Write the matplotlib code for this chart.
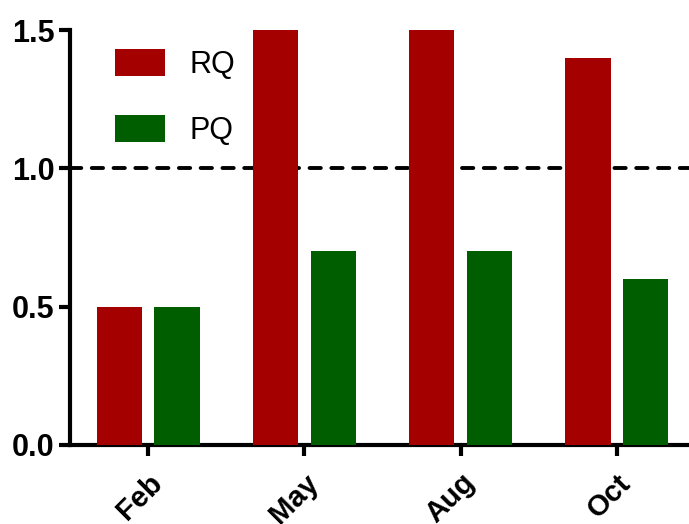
import numpy as np
import matplotlib
matplotlib.use("Agg")
import matplotlib.pyplot as plt

months = ["Feb", "May", "Aug", "Oct"]
rq = [0.5, 1.5, 1.5, 1.4]
pq = [0.5, 0.7, 0.7, 0.6]

plt.rcParams['font.family'] = ['Liberation Sans', 'DejaVu Sans']

fig = plt.figure(figsize=(6.89, 5.24), dpi=100)
ax = fig.add_axes([70/689, 79/524, 625/689, 415/524])

x = np.arange(len(months))
w = 0.29
ax.bar(x - 0.185, rq, w, color="#a50000", label="RQ", zorder=3)
ax.bar(x + 0.185, pq, w, color="#005e00", label="PQ", zorder=3)

# reference line at 1.0
ax.axhline(1.0, color="black", lw=2.8, ls=(0, (2.9, 2.7)),
           dash_capstyle="round", zorder=2)

ax.set_xlim(-0.5, 3.5)
ax.set_ylim(0, 1.5)
ax.set_yticks([0, 0.5, 1.0, 1.5])
ax.set_yticklabels(["0.0", "0.5", "1.0", "1.5"], fontsize=22, fontweight="bold")
ax.set_xticks(x)
ax.set_xticklabels(months, fontsize=21, fontweight="bold", rotation=45,
                   ha="right", rotation_mode="anchor")

for s in ["top", "right"]:
    ax.spines[s].set_visible(False)
for s in ["left", "bottom"]:
    ax.spines[s].set_linewidth(3)
ax.tick_params(width=3, length=8, pad=3)
ax.tick_params(axis="x", pad=9)

ax.legend(loc="upper left", bbox_to_anchor=(0.072, 0.955), frameon=False,
          borderaxespad=0, borderpad=0,
          fontsize=22, handlelength=1.65, handleheight=1.0, labelspacing=1.15,
          handletextpad=0.8)

fig.savefig("out.png", dpi=100)
